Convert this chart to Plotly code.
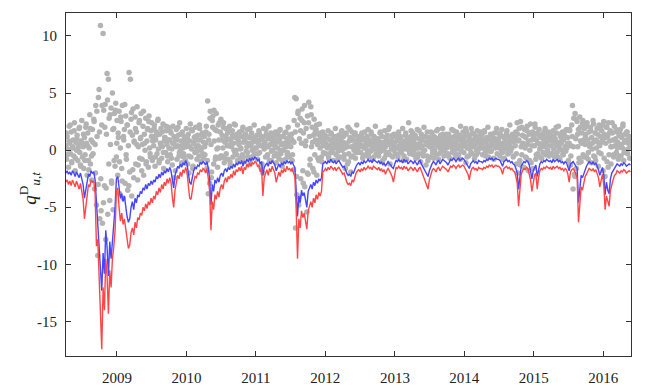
import plotly.graph_objects as go
import pandas as pd

# weekly values, one row per quarter (Apr 2008 -> May 2016)
blue_vals = [
    -2.0, -1.8, -2.1, -1.9, -2.2, -1.8, -2.0, -2.3, -1.9, -2.1, -2.4, -2.0, -2.6,
    -3.0, -4.2, -3.4, -2.5, -2.1, -2.3, -1.8, -2.0, -1.9, -2.6, -4.5, -6.2, -7.8,
    -10.5, -12.3, -9.0, -10.8, -7.0, -8.5, -11.0, -8.0, -9.5, -7.5, -6.5, -5.0, -2.5,
    -2.3, -3.5, -4.2, -3.8, -4.5, -4.0, -5.0, -5.8, -6.3, -6.0, -5.0, -4.5, -5.2,
    -4.2, -4.6, -3.9, -4.1, -3.6, -3.8, -3.3, -3.5, -3.0, -3.4, -2.9, -3.1, -2.7,
    -3.0, -2.6, -2.8, -2.3, -2.5, -2.1, -2.4, -1.9, -2.2, -1.8, -2.0, -1.6, -1.9,
    -1.5, -1.8, -2.6, -3.3, -2.2, -1.7, -1.4, -1.6, -1.2, -1.5, -1.1, -1.3, -0.9,
    -1.2, -2.0, -2.8, -3.0, -2.2, -1.8, -1.5, -1.6, -1.3, -1.4, -1.1, -1.2, -1.0,
    -1.1, -1.3, -1.0, -1.6, -2.5, -4.8, -3.0, -3.6, -2.6, -2.9, -2.4, -2.8, -2.2,
    -2.0, -2.3, -1.8, -1.6, -1.9, -1.5, -1.7, -1.4, -1.6, -1.2, -1.5, -1.1, -1.3,
    -1.0, -1.2, -0.9, -1.4, -1.0, -1.1, -0.8, -1.0, -0.7, -0.9, -0.7, -0.8, -0.6,
    -0.7, -0.9, -0.8, -1.2, -1.0, -2.2, -1.5, -1.3, -1.1, -1.4, -1.0, -1.2, -0.9,
    -1.1, -1.3, -1.8, -1.4, -1.2, -1.5, -1.1, -1.3, -1.0, -1.2, -0.9, -1.1, -1.0,
    -1.2, -1.0, -1.3, -1.5, -3.5, -5.8, -4.0, -4.6, -3.5, -4.0, -3.7, -4.3, -5.0,
    -3.6, -3.3, -3.0, -3.4, -2.8, -3.1, -2.6, -2.9, -2.5, -2.7, -2.4, -1.2, -1.1,
    -1.0, -1.2, -0.9, -1.1, -0.8, -1.0, -1.1, -0.9, -1.2, -1.0, -0.9, -1.1, -1.3,
    -1.5, -1.4, -1.8, -2.0, -2.2, -2.1, -2.3, -1.9, -2.0, -1.6, -1.4, -1.2, -1.1,
    -1.3, -1.0, -1.2, -0.9, -1.1, -1.0, -0.8, -1.0, -0.9, -1.1, -0.8, -0.9, -1.0,
    -1.1, -0.9, -1.2, -1.0, -1.3, -1.1, -1.4, -1.2, -1.0, -1.2, -1.3, -1.5, -1.6,
    -1.2, -0.9, -1.0, -0.8, -1.0, -0.9, -1.1, -0.8, -1.0, -0.9, -1.2, -1.0, -0.9,
    -1.0, -1.2, -0.9, -1.1, -1.3, -1.0, -0.9, -1.2, -1.4, -1.6, -1.9, -2.1, -2.3,
    -1.8, -1.4, -1.2, -1.0, -1.1, -1.3, -1.0, -0.9, -1.2, -1.0, -0.8, -0.9, -1.0,
    -1.1, -1.3, -1.0, -0.8, -0.9, -0.7, -0.8, -1.0, -0.8, -0.7, -0.9, -0.8, -0.7,
    -0.8, -1.0, -1.1, -1.3, -1.6, -1.2, -1.0, -0.9, -1.1, -1.0, -1.2, -0.9, -1.0,
    -1.0, -1.1, -0.9, -1.0, -0.8, -0.9, -0.7, -0.8, -0.7, -0.9, -0.8, -0.7, -0.8,
    -0.8, -0.9, -1.1, -1.4, -1.0, -0.9, -0.8, -1.0, -0.9, -1.1, -1.0, -1.2, -1.3,
    -1.6, -2.0, -3.4, -2.1, -1.4, -1.2, -1.0, -1.1, -0.9, -1.0, -1.3, -1.8, -2.5,
    -1.8, -1.5, -1.3, -2.3, -1.6, -1.2, -1.0, -1.1, -0.9, -1.0, -0.8, -0.9, -1.0,
    -0.9, -1.1, -0.8, -1.0, -0.9, -0.8, -1.0, -0.9, -1.1, -1.0, -1.2, -1.0, -1.1,
    -1.4, -1.8, -1.2, -1.1, -1.0, -1.2, -1.4, -1.6, -4.6, -3.0, -2.2, -2.4, -2.0,
    -1.6, -1.4, -1.2, -1.0, -1.1, -1.2, -1.0, -1.3, -1.1, -1.4, -1.7, -2.2, -1.8,
    -1.5, -2.2, -3.9, -2.8, -3.5, -3.8, -2.5, -2.0, -1.8, -1.5, -1.4, -1.2, -1.3,
    -1.4, -1.2, -1.3, -1.1, -1.2, -1.4, -1.3, -1.2, -1.3,
]

red_vals = [
    -2.8, -2.6, -3.0, -2.7, -3.1, -2.6, -2.9, -3.2, -2.7, -3.0, -3.4, -2.9, -3.7,
    -4.3, -6.0, -4.9, -3.5, -3.0, -3.2, -2.6, -2.8, -2.7, -3.8, -8.4, -7.8, -10.5,
    -14.0, -17.4, -12.0, -14.0, -9.5, -11.0, -14.3, -10.5, -12.0, -9.5, -8.5, -7.0, -3.5,
    -3.3, -5.0, -6.2, -5.5, -6.5, -6.0, -7.0, -8.0, -8.6, -8.3, -7.2, -6.8, -7.4,
    -6.3, -6.8, -5.9, -6.1, -5.5, -5.7, -5.0, -5.3, -4.7, -5.1, -4.5, -4.8, -4.2,
    -4.6, -4.0, -4.3, -3.6, -3.9, -3.3, -3.7, -3.0, -3.4, -2.8, -3.1, -2.5, -2.9,
    -2.4, -2.8, -4.1, -5.0, -3.5, -2.7, -2.2, -2.5, -1.9, -2.3, -1.7, -2.0, -1.5,
    -1.9, -3.2, -4.2, -4.3, -3.4, -2.8, -2.3, -2.4, -2.0, -2.1, -1.7, -1.9, -1.6,
    -1.7, -2.0, -1.6, -2.5, -3.6, -7.0, -4.5, -5.2, -3.9, -4.3, -3.6, -4.1, -3.3,
    -3.0, -3.4, -2.7, -2.4, -2.8, -2.3, -2.5, -2.1, -2.4, -1.8, -2.2, -1.7, -1.9,
    -1.5, -1.8, -1.4, -2.1, -1.5, -1.7, -1.2, -1.5, -1.1, -1.4, -1.1, -1.2, -1.0,
    -1.1, -1.4, -1.3, -1.9, -1.6, -4.0, -2.4, -2.0, -1.7, -2.2, -1.6, -1.9, -1.4,
    -1.7, -2.0, -2.8, -2.2, -1.9, -2.3, -1.7, -2.0, -1.6, -1.9, -1.4, -1.7, -1.6,
    -1.8, -1.6, -2.0, -2.3, -5.2, -9.5, -6.0, -6.8, -5.3, -5.9, -5.5, -6.3, -6.9,
    -5.3, -4.9, -4.5, -5.0, -4.2, -4.6, -3.9, -4.3, -3.7, -4.0, -3.6, -1.9, -1.8,
    -1.6, -1.8, -1.5, -1.7, -1.4, -1.6, -1.7, -1.5, -1.8, -1.6, -1.5, -1.7, -1.9,
    -2.1, -2.0, -2.5, -2.8, -3.0, -2.9, -3.1, -2.6, -2.8, -2.3, -2.0, -1.8, -1.7,
    -1.9, -1.6, -1.8, -1.5, -1.7, -1.6, -1.4, -1.6, -1.5, -1.7, -1.4, -1.5, -1.6,
    -1.7, -1.5, -1.8, -1.6, -1.9, -1.7, -2.1, -1.8, -1.6, -1.8, -2.0, -2.3, -2.8,
    -1.9, -1.5, -1.6, -1.4, -1.6, -1.5, -1.7, -1.4, -1.6, -1.5, -1.8, -1.6, -1.5,
    -1.6, -1.8, -1.5, -1.7, -1.9, -1.6, -1.5, -1.8, -2.1, -2.4, -2.8, -3.1, -3.4,
    -2.6, -2.1, -1.8, -1.6, -1.7, -1.9, -1.6, -1.5, -1.8, -1.6, -1.4, -1.5, -1.6,
    -1.7, -1.9, -1.6, -1.4, -1.5, -1.3, -1.4, -1.6, -1.4, -1.3, -1.5, -1.4, -1.3,
    -1.4, -1.6, -1.8, -2.1, -2.6, -1.9, -1.6, -1.5, -1.7, -1.6, -1.8, -1.5, -1.6,
    -1.6, -1.7, -1.5, -1.6, -1.4, -1.5, -1.3, -1.4, -1.3, -1.5, -1.4, -1.3, -1.4,
    -1.4, -1.5, -1.7, -2.1, -1.6, -1.5, -1.4, -1.6, -1.5, -1.7, -1.6, -1.8, -1.9,
    -2.3, -2.9, -4.9, -3.0, -2.1, -1.8, -1.6, -1.7, -1.5, -1.6, -2.0, -2.6, -3.6,
    -2.7, -2.2, -2.0, -3.4, -2.4, -1.8, -1.6, -1.7, -1.5, -1.6, -1.4, -1.5, -1.6,
    -1.5, -1.7, -1.4, -1.6, -1.5, -1.4, -1.6, -1.5, -1.7, -1.6, -1.8, -1.6, -1.7,
    -2.1, -2.8, -1.9, -1.7, -1.6, -1.8, -2.1, -2.4, -6.3, -4.5, -3.2, -3.5, -2.9,
    -2.3, -2.1, -1.8, -1.6, -1.7, -1.8, -1.6, -1.9, -1.7, -2.0, -2.4, -3.2, -2.6,
    -2.1, -3.1, -5.2, -4.0, -4.6, -4.9, -3.5, -2.9, -2.6, -2.2, -2.1, -1.8, -1.9,
    -2.0, -1.8, -1.9, -1.7, -1.8, -2.0, -1.9, -1.8, -1.9,
]

# grey daily observations, thinned: two per week ...
gray_vals = [
    0.4, -0.8, 1.2, 0.1, -1.5, 2.1, 0.6, -0.3, 1.6, -1.1, 0.2, 0.9, -0.5, 2.4, -1.8, 0.7, 0.0, 1.3, -0.9, 0.5, 1.9, -0.2, -1.3, 0.8, 2.6, -0.6,
    0.3, -1.6, 1.1, -0.4, 2.0, 0.6, -2.2, 1.5, -0.9, 0.2, 3.1, -1.2, 0.9, -2.6, 1.8, -0.3, 2.7, -3.4, 0.5, 3.9, -4.8, 1.2, -9.2, 4.6, 5.3, -6.0,
    10.9, -5.3, 2.2, -6.4, 10.2, 3.5, -3.1, 4.0, -7.8, 1.4, 6.7, -5.6, 6.2, 2.8, -4.4, 0.5, 3.7, -2.9, 5.0, -5.2, 1.9, 3.2, -1.4, 4.1, -0.6, 2.6,
    -2.2, 1.1, 3.4, -3.8, 0.2, 2.5, -1.6, 3.9, -4.2, 0.9, 1.8, -2.9, 3.0, -0.8, 2.2, -3.5, 0.4, 6.8, -1.9, 6.2, 2.7, -4.0, 1.3, 3.6, -2.4, 0.7,
    2.9, -1.2, 1.6, 3.8, -2.6, 0.3, 2.4, -0.7, 1.0, 3.2, -1.8, 0.5, 2.1, -2.2, 1.4, 0.0, 2.8, -1.0, 0.8, 1.9, -1.5, 3.0, 0.2, -0.6, 1.7, 2.4,
    -0.9, 1.2, 0.4, 2.2, -1.4, 0.9, 1.6, -0.3, 2.6, 0.1, -1.1, 1.4, 0.6, 1.9, -0.7, 0.3, 2.3, -1.6, 0.8, 1.1, -0.2, 1.7, 0.5, -1.0, 2.0, 0.2,
    0.9, -0.4, 1.5, 0.1, -1.3, 2.1, 0.6, -2.4, 1.0, 0.3, 1.8, -0.8, 0.4, 1.3, -0.5, 2.4, 0.0, 0.8, -1.1, 1.6, 0.2, -0.3, 1.2, 0.7, -0.9, 1.9,
    0.5, -1.2, 1.4, -2.0, 0.8, 2.3, -0.6, 0.1, 1.7, -1.4, 0.6, 1.1, -0.2, 2.0, 0.3, -0.8, 1.3, 0.4, -0.5, 1.9, 0.9, -1.0, 0.2, 1.5, -0.3, 0.7,
    1.2, -0.4, 0.6, 2.1, -1.6, 4.3, -3.8, 1.4, -2.9, 3.4, 0.5, -1.9, 2.6, 3.0, -1.2, 0.8, 1.8, -0.6, 3.2, 0.1, -1.5, 2.2, 0.9, -0.7, 1.6, 2.7,
    -0.5, 1.3, 0.2, 2.4, -1.1, 0.7, 1.9, -0.3, 0.9, 1.5, -0.8, 0.4, 2.1, -1.3, 1.0, 0.3, 1.7, -0.6, 0.6, 2.3, -0.2, 1.1, 0.0, 1.4, -0.9, 0.8,
    0.5, 1.6, -0.7, 0.2, 1.2, -0.4, 2.0, 0.7, -1.0, 0.9, 1.4, -0.1, 0.3, 1.8, -0.6, 0.6, 1.1, -1.2, 0.4, 1.5, 0.0, -0.5, 1.0, 2.2, -0.3, 0.8,
    0.2, 1.3, -0.8, 0.6, 1.7, -0.2, 0.9, -1.5, 1.2, 0.4, -2.0, 1.9, 0.1, 0.7, -0.6, 1.4, 0.3, -0.4, 1.0, 2.1, -0.9, 0.5, 1.5, -0.1, 0.8, 0.0,
    1.1, -0.5, 0.4, 1.6, -1.1, 0.7, 0.2, 1.3, -0.7, 0.9, 1.8, -0.3, 0.5, -1.4, 1.2, 0.0, 0.6, 1.5, -0.8, 0.3, 1.0, -0.2, 2.0, 0.4, -0.6, 0.9,
    0.3, 1.4, -0.9, 0.8, -1.7, 2.6, 4.6, -6.8, 4.5, -3.9, 2.2, 3.4, -4.8, 1.0, 2.8, -2.5, 0.6, 3.6, -1.8, 1.5, 2.4, -3.2, 0.4, 1.9, -5.4, 3.0,
    -2.1, 4.2, 1.2, -0.8, 3.8, 0.3, 2.0, -1.6, 1.3, 2.7, -0.4, 0.9, 1.8, -2.2, 0.5, 1.4, -0.9, 2.3, 0.2, 1.1, -0.6, 0.7, 1.6, -0.2, 0.4, 1.0,
    0.6, -0.3, 1.2, 0.2, 1.7, -0.7, 0.4, 0.9, -0.2, 1.4, 0.1, 0.7, -0.9, 1.1, 0.3, 1.9, -0.4, 0.5, 0.8, -0.1, 1.3, 0.2, -0.6, 0.9, 1.6, 0.0,
    0.4, 1.2, -0.8, 0.2, -1.6, 1.5, 0.6, -1.2, 2.0, -0.3, 0.8, 1.1, -1.9, 0.3, 1.6, -0.5, 0.9, 0.0, 1.3, -0.7, 0.5, 2.2, 0.1, -0.2, 1.0, 0.6,
    0.8, -0.2, 1.3, 0.4, -0.7, 1.0, 0.2, 1.6, -0.4, 0.6, 1.1, 0.0, 1.8, -0.6, 0.5, 0.9, -0.1, 1.4, 0.3, -0.8, 0.7, 1.2, 0.1, 2.1, -0.3, 0.6,
    0.2, 1.0, -0.5, 0.7, 1.5, -0.1, 0.4, 1.2, -0.9, 0.6, 0.0, 1.7, 0.3, -0.4, 0.9, 1.3, -0.2, 0.5, 2.0, -1.2, 0.8, 0.1, 1.1, -0.6, 0.4, 1.4,
    0.7, -0.3, 1.2, 0.2, 0.9, -0.6, 1.6, 0.4, 0.0, 1.1, -0.2, 0.6, 1.9, 0.3, -0.5, 0.8, 1.3, 0.1, -0.8, 1.0, 0.5, 2.4, -0.1, 0.7, 1.2, 0.2,
    0.4, 1.5, -0.4, 0.8, 0.1, 1.1, -0.7, 0.5, 1.8, 0.2, -0.3, 1.0, 0.6, -1.0, 1.4, 0.3, 0.9, -0.5, 2.0, 0.0, 1.2, -1.3, 0.7, 1.6, -0.9, 0.4,
    1.1, 0.3, -0.6, 0.9, 1.5, -0.2, 0.5, 1.2, 0.0, 0.8, -0.4, 1.7, 0.4, 1.0, -0.8, 0.6, 0.2, 1.3, -0.1, 0.7, 1.9, 0.1, -0.5, 1.0, 0.5, 1.4,
    0.2, 0.9, -0.3, 1.4, 0.6, -0.7, 1.1, 0.3, 1.8, -0.2, 0.7, 0.0, 1.2, 0.5, -0.6, 1.6, 0.1, 0.9, -0.4, 1.3, 0.4, 2.1, -0.1, 0.8, 0.3, 1.0,
    -0.2, 1.2, 0.4, -1.1, 1.6, 0.2, 0.8, -0.5, 1.3, 0.1, 0.6, 1.9, -0.3, 0.9, 0.3, 1.4, -0.7, 0.5, 1.1, 0.0, 1.7, -0.2, 0.7, 1.2, 0.2, 0.9,
    0.5, 1.3, -0.4, 0.8, 0.2, 1.6, -0.2, 0.6, 1.0, 0.1, 2.0, -0.6, 0.9, 0.3, 1.4, -0.1, 0.7, 1.1, 0.4, -0.8, 1.5, 0.2, 0.8, 1.9, -0.3, 0.6,
    1.0, 0.2, -0.5, 1.3, 0.6, 1.8, -0.2, 0.4, 1.1, -0.7, 0.8, 0.1, 1.5, 0.3, -0.3, 1.2, 0.5, 2.2, -0.1, 0.9, 0.2, 1.4, -0.6, 0.7, 1.0, 0.4,
    1.6, -1.2, 2.4, -2.0, 0.8, 1.9, -0.9, 2.5, 0.3, -0.4, 1.3, 0.6, -1.5, 1.8, 0.2, 1.1, -0.7, 2.1, 0.5, -1.8, 1.4, 0.0, 2.3, -1.1, 0.9, 1.6,
    -1.6, 1.2, 0.4, 2.0, -0.8, 0.9, 1.5, -0.3, 0.6, 1.8, 0.1, -0.6, 1.1, 0.5, 1.4, -0.2, 0.8, 0.3, 1.9, -0.4, 0.7, 1.2, 0.0, 1.6, -0.5, 0.9,
    0.4, 1.3, -0.3, 0.8, 1.7, 0.1, -0.6, 1.0, 0.5, 1.5, -0.2, 0.7, 2.1, 0.2, -0.8, 1.2, 0.6, 0.0, 1.6, -0.4, 0.9, 1.3, 0.3, -0.1, 1.8, 0.5,
    1.1, -0.9, 0.6, 1.7, -1.3, 0.4, 2.2, 3.9, -3.4, 2.8, -2.1, 3.2, 1.0, -1.6, 2.5, 0.3, 1.8, -0.7, 2.9, 0.8, -1.0, 1.5, 2.3, -0.4, 0.9, 1.9,
    0.5, 1.4, -0.6, 2.4, 0.9, -0.2, 1.6, 0.3, 2.0, -1.1, 1.1, 0.6, 2.6, -0.5, 0.8, 1.5, -0.9, 0.2, 1.9, 0.7, -1.4, 2.2, 0.4, 1.2, -0.3, 1.7,
    0.9, -1.8, 2.5, 1.4, -2.3, 0.6, 2.0, -1.0, 1.2, 2.4, -0.4, 0.8, 1.7, -1.2, 0.3, 1.5, 0.9, -0.6, 2.1, 0.4, 1.0, -0.2, 1.6, 0.7, -0.8, 1.3,
    0.5, 1.8, -0.5, 1.1, 0.2, 2.3, -0.9, 0.7, 1.4, 0.0, 0.9, 1.6, -0.3, 0.6, 1.2, -0.7, 0.4, 1.0,
]

# ... plus one more per week, in between
gray_vals_b = [
    1.5, -0.4, 0.8, 2.2, -1.0, 0.3, 1.7, -0.7, 1.0, 0.2, 2.0, -1.4, 0.6,
    1.4, -0.9, 2.3, 0.4, -1.7, 1.9, -0.5, 0.7, 2.5, -2.0, 3.4, -3.0, 1.6,
    -2.5, 3.9, -4.6, 2.0, -3.3, 4.4, -1.2, 3.1, -2.7, 1.8, -0.9, 3.5, 0.6,
    1.5, -1.0, 2.9, -2.7, 1.2, 4.0, -0.4, 2.2, -3.1, 1.6, 3.3, -1.7, 0.8,
    1.9, 0.5, -1.3, 2.6, 1.1, -0.8, 3.4, 0.6, -1.2, 1.8, 2.5, -0.3, 1.2,
    0.8, 1.9, -0.6, 1.3, 2.7, -0.9, 0.5, 1.6, -0.2, 1.1, 2.1, -0.5, 0.9,
    1.7, -0.7, 0.6, 1.2, -1.8, 0.9, 2.0, -0.2, 1.4, 0.4, -0.6, 1.0, 0.3,
    1.1, -0.5, 0.3, 1.8, -1.6, 0.7, 1.2, -0.1, 0.9, 2.2, 0.0, 1.3, -0.7,
    0.3, 1.6, -0.9, 0.9, 2.8, -2.4, 2.0, 3.5, -0.8, 1.7, 0.2, 2.4, -0.5,
    0.9, 2.0, -0.7, 1.2, 0.4, 1.7, -1.0, 0.6, 1.3, 0.0, 2.2, -0.4, 1.0,
    1.2, 0.1, 1.7, -0.6, 0.8, 1.3, -0.2, 0.5, 1.9, -0.8, 0.7, 1.1, 0.2,
    0.9, -0.3, 1.5, 0.4, -1.2, 1.1, 0.6, 1.8, -0.5, 0.3, 1.2, -0.9, 0.6,
    0.5, 1.4, -0.3, 0.9, 1.7, 0.0, -0.9, 1.2, 0.4, 1.6, -0.4, 0.7, 1.3,
    1.0, -0.4, 0.7, 1.6, -2.3, 3.2, -4.1, 1.7, 2.6, -2.9, 3.9, 0.8, -2.0,
    2.4, -1.3, 3.1, 0.7, -1.9, 1.6, 2.2, -0.7, 0.9, 1.5, -1.0, 0.5, 1.3,
    1.1, 0.4, -0.5, 0.9, 1.5, -0.2, 0.6, 1.2, 0.2, -0.8, 1.0, 0.5, 1.7,
    0.7, -0.4, 1.4, 0.3, -1.0, 1.8, -0.6, 0.9, 0.4, 1.5, -0.2, 0.8, 1.2,
    0.3, 1.5, -0.5, 0.9, 0.2, 1.2, -0.3, 0.7, 1.6, 0.1, -0.6, 1.0, 0.4,
    0.9, -0.2, 1.6, 0.3, 0.7, -0.7, 1.1, 0.5, 1.8, -0.4, 0.6, 1.3, 0.0,
    0.3, 1.4, -0.4, 0.8, 1.2, 0.0, -0.9, 0.6, 1.5, 0.2, 1.0, -0.3, 1.7,
    0.8, -0.1, 1.3, 0.4, -0.6, 1.7, 0.2, 0.9, -0.2, 1.2, 0.5, -0.5, 1.0,
    0.5, 1.6, 0.1, -0.7, 1.1, 0.6, 1.8, -0.3, 0.9, 0.3, 1.4, -0.1, 0.7,
    1.3, -0.5, 0.6, 1.0, 0.1, 1.7, -0.3, 0.8, 0.4, 1.2, -0.8, 0.5, 1.6,
    0.6, 1.9, -0.6, 0.3, 1.0, -0.2, 1.5, 0.4, 0.9, -0.4, 1.2, 0.2, 1.6,
    0.2, 0.9, 1.7, -0.5, 1.1, 0.4, -0.1, 1.3, 0.6, -0.7, 1.0, 0.3, 1.5,
    0.6, 1.4, 0.0, -0.8, 1.2, 0.5, 1.7, -0.3, 0.8, 0.2, 1.3, -0.5, 1.1,
    -0.3, 1.4, 0.9, -1.3, 2.0, 0.5, 1.2, -0.6, 1.7, 0.8, -0.9, 1.5, 0.4,
    1.0, 2.3, -0.4, 0.6, 1.3, 0.2, -0.7, 1.1, 1.6, 0.4, -0.2, 0.9, 1.4,
    0.9, -0.3, 1.2, 0.6, 2.0, -0.6, 0.3, 1.4, 0.8, -0.4, 1.1, 1.7, 0.2,
    0.6, 1.8, -0.5, 1.2, 0.3, -2.3, 2.7, 1.4, -1.1, 2.0, 0.6, 2.6, -0.6,
    1.2, 2.1, -0.8, 0.5, 1.7, 0.1, 2.3, -0.6, 0.9, 1.4, -0.2, 2.0, 0.7,
    2.2, -0.7, 1.1, 2.0, -1.5, 1.5, 0.3, 2.4, -0.4, 0.9, 1.8, 0.2, -0.5,
    1.4, 0.5, 2.1, -0.2, 0.8, 1.6, 0.1, 1.1, 0.6,
]

start = "2008-04-07"
blue_dates = pd.date_range(start, periods=len(blue_vals), freq="7D")
red_dates = pd.date_range(start, periods=len(red_vals), freq="7D")
gray_dates = pd.date_range(start, "2016-05-26", periods=len(gray_vals))
gray_dates_b = pd.date_range("2008-04-09", periods=len(gray_vals_b), freq="7D")

y_ticks = [-15, -10, -5, 0, 5, 10]
y_ticktext = ["-15", "-10", "-5", "0", "5", "10"]
years = [2009, 2010, 2011, 2012, 2013, 2014, 2015, 2016]

serif = "Liberation Serif"
ink = "#222222"
dot = dict(color="#b3b3b3", size=5.5, line=dict(width=0))

fig = go.Figure()
fig.add_trace(go.Scatter(x=gray_dates, y=gray_vals, mode="markers", marker=dot, showlegend=False))
fig.add_trace(go.Scatter(x=gray_dates_b, y=gray_vals_b, mode="markers", marker=dot, showlegend=False))
fig.add_trace(go.Scatter(x=blue_dates, y=blue_vals, mode="lines",
                         line=dict(color="#4646ff", width=1.4), showlegend=False))
fig.add_trace(go.Scatter(x=red_dates, y=red_vals, mode="lines",
                         line=dict(color="#ff4646", width=1.4), showlegend=False))

axis_common = dict(showline=True, linecolor="#333333", linewidth=1, mirror="ticks",
                   ticks="inside", ticklen=5, tickcolor="#333333", showgrid=False,
                   zeroline=False, tickfont=dict(family=serif, size=15, color=ink))

fig.update_xaxes(type="date", range=["2008-04-08", "2016-05-26"],
                 tickvals=[f"{y}-01-01" for y in years], ticktext=[str(y) for y in years],
                 ticklabelstandoff=8, **axis_common)
fig.update_yaxes(range=[-18, 12], tickvals=y_ticks, showticklabels=False, **axis_common)

# y tick labels sit closer to the axis than plotly puts them, so place them by hand
for v, t in zip(y_ticks, y_ticktext):
    fig.add_annotation(x=-0.013, xref="paper", y=v, yref="y", text=t, showarrow=False,
                       xanchor="right", yanchor="middle",
                       font=dict(family=serif, size=15, color=ink))

fig.add_annotation(x=-0.064, xref="paper", y=0.49, yref="paper",
                   text="<i>q</i><sup>D</sup><sub><i>u,t</i></sub>", textangle=-90,
                   showarrow=False, xanchor="center", yanchor="middle",
                   font=dict(family=serif, size=19, color=ink))

# the page body adds an 8px offset, so the figure is 8px smaller and margins shifted
fig.update_layout(width=656, height=382, plot_bgcolor="white", paper_bgcolor="white",
                  margin=dict(l=58, r=33, t=4, b=32),
                  font=dict(family=serif))

fig.write_html("out.html")
